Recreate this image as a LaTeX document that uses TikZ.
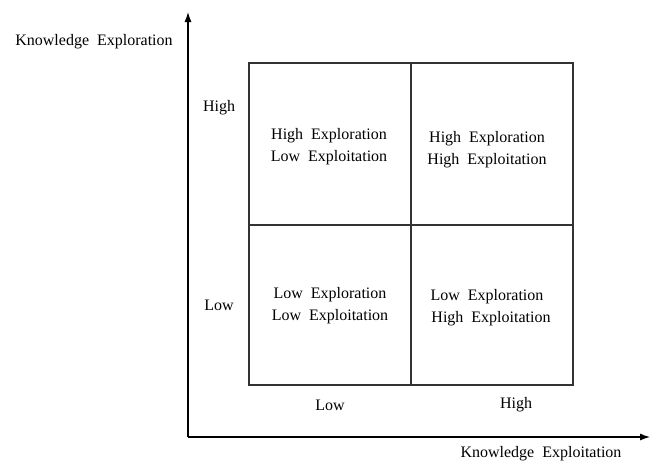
\documentclass[tikz,border=0pt]{standalone}
\usepackage{fontspec}
\setmainfont{Liberation Serif}
\usetikzlibrary{arrows.meta}

\begin{document}
\begin{tikzpicture}[x=1pt,y=-1pt,
    every node/.style={font=\fontsize{16}{22}\selectfont,inner sep=0,align=center},
    axis/.style={line width=1.1pt,-{Latex[length=10pt,width=7pt]}},
    cell/.style={draw,line width=1.2pt,black!80}]
        \useasboundingbox (0,0) rectangle (656,464);
        \coordinate (o) at (188,437);
        \coordinate (ytip) at (188,12);
        \coordinate (xtip) at (650,437);
        \draw[axis] (o) -- (ytip);
        \draw[axis] (o) -- (xtip);
        % quadrants
        \draw[cell] (249,63) rectangle (411,225);
        \draw[cell] (411,63) rectangle (573,225);
        \draw[cell] (249,225) rectangle (411,385);
        \draw[cell] (411,225) rectangle (573,385);
        \node (ylab) at (94,42) {Knowledge\ \ Exploration};
        \node (xlab) at (541,454) {Knowledge\ \ Exploitation};
        \node (yhigh) at (219,108) {High};
        \node (ylow) at (219,305) {Low};
        \node (xlow) at (330,405) {Low};
        \node (xhigh) at (516,405) {High};
        \node (hl) at (329,147) {High\ \ Exploration\\Low\ \ Exploitation};
        \node (hh) at (487,150) {High\ \ Exploration\\High\ \ Exploitation};
        \node (ll) at (330,306) {Low\ \ Exploration\\Low\ \ Exploitation};
        \node (lh) at (487,308) {Low\ \ Exploration\\\ \ High\ \ Exploitation};
      \end{tikzpicture}
\end{document}
